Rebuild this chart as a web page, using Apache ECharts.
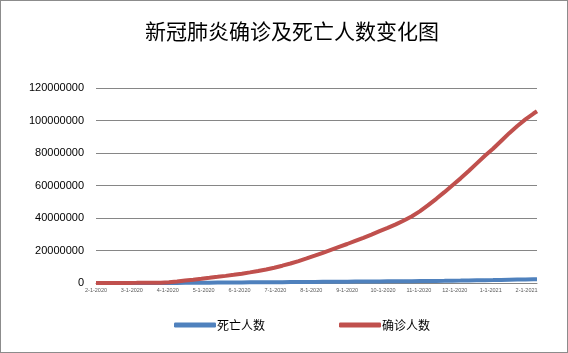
<!DOCTYPE html>
<html>
<head>
<meta charset="utf-8">
<script src="https://cdn.jsdelivr.net/npm/echarts@6/dist/echarts.min.js"></script>
<style>
  html, body { margin: 0; padding: 0; background: #fff; }
  #chart { width: 566px; height: 351px; border: 1px solid #8c8c8c; }
</style>
</head>
<body>
<div id="chart"></div>
<script>
// 自 2020-1-22 起的天数（每周取一点）
const days = [0, 7, 14, 21, 28, 35, 42, 49, 56, 63, 70, 77, 84, 91, 98, 105, 112, 119, 126, 133,
  140, 147, 154, 161, 168, 175, 182, 189, 196, 203, 210, 217, 224, 231, 238, 245, 252, 259, 266,
  273, 280, 287, 294, 301, 308, 315, 322, 329, 336, 343, 350, 357, 364, 371, 378, 381];

// 确诊人数
const confirmed = [557, 6100, 28200, 45300, 75500, 81600, 95300, 126200, 214600, 467700, 932500,
  1511900, 2057000, 2618000, 3190000, 3780000, 4380000, 5030000, 5740000, 6530000, 7380000,
  8300000, 9400000, 10650000, 12000000, 13450000, 15100000, 16800000, 18600000, 20400000,
  22200000, 24000000, 25900000, 27800000, 29800000, 31900000, 33900000, 36100000, 38500000,
  41100000, 44200000, 47900000, 51800000, 55900000, 60200000, 64400000, 68900000, 73600000,
  78300000, 82600000, 87400000, 92200000, 96600000, 100700000, 104300000, 105700000];

// 死亡人数
const deaths = [17, 133, 565, 1120, 2130, 2800, 3280, 4620, 8820, 21100, 50900, 88500, 134000,
  183000, 228000, 265000, 298000, 328000, 354000, 387000, 420000, 450000, 485000, 517000, 552000,
  586000, 624000, 663000, 703000, 746000, 788000, 827000, 864000, 901000, 941000, 980000, 1016000,
  1056000, 1094000, 1136000, 1180000, 1230000, 1280000, 1340000, 1410000, 1480000, 1560000,
  1640000, 1710000, 1780000, 1880000, 1980000, 2080000, 2170000, 2260000, 2300000];

// 横轴刻度标签（每 31 天一个）
const tickLabels = ["2-1-2020", "3-1-2020", "4-1-2020", "5-1-2020", "6-1-2020", "7-1-2020",
  "8-1-2020", "9-1-2020", "10-1-2020", "11-1-2020", "12-1-2020", "1-1-2021", "2-1-2021"];

const chart = echarts.init(document.getElementById("chart"));

const option = {
  animation: false,
  title: {
    text: "新冠肺炎确诊及死亡人数变化图",
    left: 139,
    top: 15,
    textStyle: {
      fontFamily: "Noto Sans CJK SC",
      fontSize: 21,
      fontWeight: "normal",
      color: "#000",
    },
  },
  legend: {
    data: ["死亡人数", "确诊人数"],
    bottom: 16,
    left: 168,
    itemWidth: 42,
    itemHeight: 5,
    itemGap: 74,
    icon: "roundRect",
    textStyle: {
      fontFamily: "Noto Sans CJK SC",
      fontSize: 12,
      color: "#000",
      padding: [0, 0, 0, -4],
    },
  },
  grid: {
    left: 95,
    right: 30,
    top: 87,
    bottom: 69,
  },
  xAxis: {
    type: "value",
    min: 0,
    max: 381,
    interval: 31,
    axisLine: { lineStyle: { color: "#868686", width: 1 } },
    axisTick: { show: false },
    splitLine: { show: false },
    axisLabel: {
      fontSize: 5.5,
      color: "#595959",
      margin: 4,
      showMaxLabel: false,
      formatter: (v) => (v % 31 === 0 ? tickLabels[v / 31] || "" : ""),
    },
  },
  yAxis: {
    type: "value",
    min: 0,
    max: 120000000,
    interval: 20000000,
    axisLine: { show: false },
    axisTick: { show: false },
    axisLabel: {
      fontFamily: "Liberation Sans",
      fontSize: 11,
      color: "#000",
      margin: 12,
      formatter: (v) => String(v),
    },
    splitLine: { lineStyle: { color: "#868686", width: 1 } },
  },
  series: [
    {
      name: "死亡人数",
      type: "line",
      data: days.map((d, i) => [d, deaths[i]]),
      showSymbol: false,
      lineStyle: { color: "#4f81bd", width: 4 },
      itemStyle: { color: "#4f81bd" },
    },
    {
      name: "确诊人数",
      type: "line",
      data: days.map((d, i) => [d, confirmed[i]]),
      showSymbol: false,
      lineStyle: { color: "#c0504d", width: 4 },
      itemStyle: { color: "#c0504d" },
    },
  ],
};

chart.setOption(option);
</script>
</body>
</html>
